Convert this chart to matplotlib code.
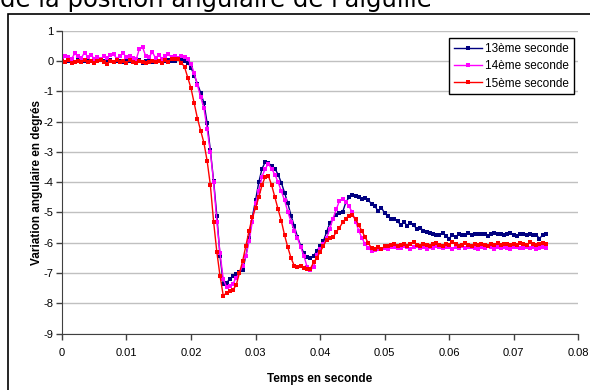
import numpy as np
import matplotlib
matplotlib.use("Agg")
import matplotlib.pyplot as plt
from matplotlib.patches import Rectangle

plt.rcParams['font.family'] = ['Liberation Sans', 'DejaVu Sans']
plt.rcParams['axes.unicode_minus'] = False

# -------------------------------
# DATA
# -------------------------------
dt = 0.0005
n_points = 151
temps = np.arange(n_points) * dt

labels = ["13ème seconde", "14ème seconde", "15ème seconde"]
colors = ["#000080", "#FF00FF", "#FF0000"]

sec13 = [
    0.0, -0.02, 0.01, 0.0, -0.03, 0.02, 0.0, -0.01, 0.03, 0.0,
    -0.02, 0.01, 0.02, -0.01, 0.0, 0.03, -0.02, 0.01, 0.0, -0.03,
    0.02, 0.01, -0.01, 0.0, 0.02, -0.06, 0.0, 0.01, -0.02, 0.03,
    0.0, 0.02, -0.01, 0.04, 0.01, 0.0, 0.05, 0.02, 0.0, -0.05,
    -0.22, -0.48, -0.75, -1.05, -1.38, -2.05, -2.95, -3.95, -5.1, -6.45,
    -7.35, -7.32, -7.2, -7.1, -7.03, -6.98, -6.9, -6.44, -5.85, -5.15,
    -4.6, -4.0, -3.56, -3.33, -3.38, -3.45, -3.55, -3.75, -4.02, -4.35,
    -4.7, -5.1, -5.45, -5.8, -6.1, -6.35, -6.47, -6.5, -6.42, -6.28,
    -6.1, -5.95, -5.65, -5.35, -5.2, -5.07, -5.02, -4.98, -4.66, -4.5,
    -4.43, -4.44, -4.5, -4.55, -4.52, -4.6, -4.72, -4.8, -4.95, -4.84,
    -5.02, -5.12, -5.22, -5.23, -5.28, -5.42, -5.32, -5.43, -5.36, -5.41,
    -5.55, -5.5, -5.6, -5.64, -5.68, -5.72, -5.75, -5.73, -5.69, -5.76,
    -5.86, -5.74, -5.8, -5.72, -5.75, -5.73, -5.67, -5.74, -5.7, -5.72,
    -5.71, -5.71, -5.76, -5.72, -5.68, -5.72, -5.7, -5.75, -5.71, -5.69,
    -5.73, -5.76, -5.72, -5.7, -5.74, -5.71, -5.75, -5.73, -5.86, -5.74,
    -5.72,
]

sec14 = [
    0.05, 0.18, 0.12, 0.08, 0.25, 0.15, 0.1, 0.28, 0.14, 0.2,
    0.08, 0.12, 0.06, 0.15, 0.1, 0.2, 0.22, 0.08, 0.18, 0.25,
    0.12, 0.18, 0.1, 0.05, 0.4, 0.45, 0.15, 0.12, 0.3, 0.1,
    0.2, 0.08, 0.15, 0.22, 0.12, 0.18, 0.1, 0.16, 0.12, 0.05,
    -0.1, -0.4, -0.8, -1.2, -1.55, -2.25, -3.0, -4.0, -5.3, -6.35,
    -7.2, -7.46, -7.42, -7.35, -7.15, -7.0, -6.75, -6.45, -5.95, -5.3,
    -4.7, -4.3, -3.82, -3.55, -3.4, -3.56, -3.75, -4.0, -4.3, -4.6,
    -4.98, -5.3, -5.6, -5.85, -6.15, -6.44, -6.8, -6.9, -6.8, -6.4,
    -6.2, -6.05, -5.85, -5.55, -5.2, -4.9, -4.62, -4.55, -4.66, -4.8,
    -5.0, -5.3, -5.6, -5.85, -6.05, -6.18, -6.26, -6.23, -6.2, -6.22,
    -6.18, -6.2, -6.15, -6.13, -6.18, -6.16, -6.1, -6.15, -6.2, -6.13,
    -6.12, -6.17, -6.14, -6.19, -6.13, -6.16, -6.1, -6.15, -6.18, -6.13,
    -6.15, -6.2, -6.14, -6.16, -6.12, -6.18, -6.15, -6.13, -6.17, -6.2,
    -6.14, -6.16, -6.12, -6.15, -6.19, -6.14, -6.17, -6.13, -6.16, -6.2,
    -6.15, -6.14, -6.18, -6.16, -6.13, -6.17, -6.15, -6.19, -6.16, -6.14,
    -6.17,
]

sec15 = [
    0.0, -0.03, 0.02, -0.05, -0.02, 0.0, -0.04, 0.03, -0.02, 0.01,
    -0.06, 0.0, 0.02, -0.03, -0.1, 0.0, -0.02, 0.03, -0.04, 0.0,
    -0.05, 0.02, -0.02, -0.06, 0.0, -0.03, -0.08, -0.02, 0.01, -0.04,
    0.0, -0.05, 0.02, -0.02, 0.08, 0.05, 0.05, -0.05, -0.2, -0.55,
    -0.9, -1.4, -1.9, -2.3, -2.7, -3.3, -4.1, -5.3, -6.3, -7.1,
    -7.75, -7.65, -7.6, -7.55, -7.4, -7.0, -6.6, -6.1, -5.6, -5.15,
    -4.85, -4.5, -4.1, -3.82, -3.8, -4.1, -4.5, -4.9, -5.28, -5.75,
    -6.15, -6.5, -6.76, -6.8, -6.78, -6.83, -6.88, -6.85, -6.65, -6.5,
    -6.3, -6.12, -5.9, -5.85, -5.82, -5.65, -5.5, -5.33, -5.2, -5.1,
    -5.08, -5.23, -5.42, -5.62, -5.82, -6.02, -6.18, -6.2, -6.15, -6.2,
    -6.12, -6.1, -6.08, -6.05, -6.12, -6.07, -6.03, -6.09, -6.05, -5.98,
    -6.06, -6.1, -6.04, -6.08, -6.12, -6.05, -6.0, -6.07, -6.1, -6.04,
    -6.06, -5.97, -6.05, -6.09, -6.06, -6.02, -6.08, -6.12, -6.05, -6.07,
    -6.03, -6.06, -6.1, -6.04, -6.06, -6.02, -6.08, -6.05, -6.03, -6.07,
    -6.04, -6.06, -6.01, -6.05, -6.08, -5.98, -6.03, -6.06, -6.04, -6.0,
    -6.03,
]

series = [sec13, sec14, sec15]

x_ticks = [0, 0.01, 0.02, 0.03, 0.04, 0.05, 0.06, 0.07, 0.08]
y_ticks = [1, 0, -1, -2, -3, -4, -5, -6, -7, -8, -9]

# -------------------------------
# FIGURE
# -------------------------------
fig = plt.figure(figsize=(5.9, 3.9), dpi=100)
ax = fig.add_axes([0.105, 0.1444, 0.875, 0.7769])

for values, label, color in zip(series, labels, colors):
    ax.plot(temps, values, color=color, linewidth=1, marker='s',
            markersize=2.6, markeredgewidth=0, label=label)

ax.set_xlim(0, 0.08)
ax.set_ylim(-9, 1)
ax.set_xticks(x_ticks)
ax.set_xticklabels([f"{v:g}" for v in x_ticks])
ax.set_yticks(y_ticks)

ax.yaxis.grid(True, color='#c0c0c0', linewidth=1)
ax.set_axisbelow(True)
for side in ['top', 'right']:
    ax.spines[side].set_visible(False)
for side in ['left', 'bottom']:
    ax.spines[side].set_color('#404040')
ax.tick_params(axis='both', direction='out', length=4, width=1,
               color='#404040', labelsize=8)
ax.tick_params(axis='x', pad=6)
ax.tick_params(axis='y', pad=2)

ax.set_xlabel("Temps en seconde", fontsize=8.5, fontweight='bold', labelpad=11)
ax.set_ylabel("Variation angulaire en degrés", fontsize=8.5, fontweight='bold', labelpad=0.5)

leg = ax.legend(loc='upper right', bbox_to_anchor=(0.992, 0.975), borderaxespad=0,
                fontsize=8.5, numpoints=1, handlelength=2.4, fancybox=False,
                framealpha=1, edgecolor='black', borderpad=0.4, labelspacing=0.45,
                handletextpad=0.3)
leg.get_frame().set_linewidth(1)

# outer chart frame and the partly cut title
fig.patches.append(Rectangle((8 / 590, -0.02), 1.1, 1 - 14 / 390 + 0.02,
                             transform=fig.transFigure, fill=False,
                             edgecolor='black', linewidth=1.2))
fig.text(0.0, 1 - 7.5 / 390, "de la position angulaire de l'aiguille",
         fontsize=17.5, va='baseline', ha='left', family='DejaVu Sans')

fig.savefig("out.png", dpi=100)
